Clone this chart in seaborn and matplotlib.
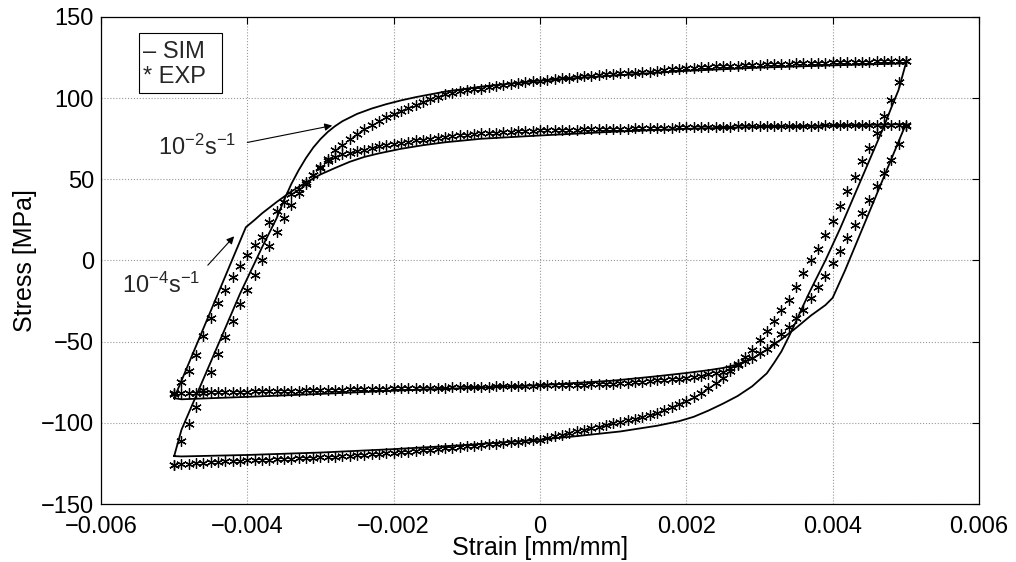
import matplotlib
matplotlib.use("Agg")
import matplotlib.pyplot as plt
import seaborn as sns
from matplotlib.patches import Rectangle

# ---------------- data ----------------
# experimental sampling strains (shared by all four experimental branches)
EXP_STRAIN = [
    -0.0050, -0.0049, -0.0048, -0.0047, -0.0046, -0.0045, -0.0044, -0.0043, -0.0042, -0.0041,
    -0.0040, -0.0039, -0.0038, -0.0037, -0.0036, -0.0035, -0.0034, -0.0033, -0.0032, -0.0031,
    -0.0030, -0.0029, -0.0028, -0.0027, -0.0026, -0.0025, -0.0024, -0.0023, -0.0022, -0.0021,
    -0.0020, -0.0019, -0.0018, -0.0017, -0.0016, -0.0015, -0.0014, -0.0013, -0.0012, -0.0011,
    -0.0010, -0.0009, -0.0008, -0.0007, -0.0006, -0.0005, -0.0004, -0.0003, -0.0002, -0.0001,
    0.0000,
    0.0001, 0.0002, 0.0003, 0.0004, 0.0005, 0.0006, 0.0007, 0.0008, 0.0009, 0.0010,
    0.0011, 0.0012, 0.0013, 0.0014, 0.0015, 0.0016, 0.0017, 0.0018, 0.0019, 0.0020,
    0.0021, 0.0022, 0.0023, 0.0024, 0.0025, 0.0026, 0.0027, 0.0028, 0.0029, 0.0030,
    0.0031, 0.0032, 0.0033, 0.0034, 0.0035, 0.0036, 0.0037, 0.0038, 0.0039, 0.0040,
    0.0041, 0.0042, 0.0043, 0.0044, 0.0045, 0.0046, 0.0047, 0.0048, 0.0049, 0.0050,
]

# EXP, strain rate 1e-2 1/s, loading branch (stress at EXP_STRAIN)
EXP_HIGH_LOADING = [
    -126, -111.5, -101, -90, -79.5, -68.5, -57.5, -47, -37, -27,
    -18, -9, 0, 9, 17.5, 26, 34, 41.5, 47, 52.4,
    57.5, 62.7, 67.8, 70.9, 75, 78, 81.1, 83.2, 86.2, 88.3,
    90.5, 92.3, 94.2, 96, 97.8, 99.6, 101, 102.4, 103.3, 104.2,
    104.9, 105.4, 105.9, 106.8, 107.6, 108.3, 109, 109.5, 110, 110.4,
    110.8,
    111.3, 111.8, 112.2, 112.7, 113.1, 113.5, 113.9, 114.3, 114.7, 115,
    115.3, 115.5, 115.7, 115.9, 116.3, 116.8, 117.3, 117.7, 118, 118.3,
    118.6, 118.9, 119.2, 119.5, 119.7, 119.9, 120.1, 120.3, 120.5, 120.7,
    120.9, 121, 121.1, 121.3, 121.4, 121.5, 121.7, 121.8, 121.9, 122,
    122.1, 122.2, 122.3, 122.4, 122.5, 122.6, 122.7, 122.8, 122.9, 123,
]
# EXP, strain rate 1e-2 1/s, unloading branch (stress at EXP_STRAIN)
EXP_HIGH_UNLOADING = [
    -125.8, -125.5, -125.2, -124.9, -124.6, -124.3, -124, -123.8, -123.6, -123.4,
    -123.2, -123, -122.8, -122.6, -122.4, -122.2, -122.1, -121.9, -121.7, -121.5,
    -121.2, -121, -120.8, -120.5, -120.3, -120, -119.7, -119.4, -119.1, -118.8,
    -118.5, -118.1, -117.7, -117.3, -116.9, -116.5, -116.1, -115.7, -115.3, -114.9,
    -114.5, -114.1, -113.7, -113.3, -112.9, -112.5, -112.1, -111.7, -111.3, -110.8,
    -110.3,
    -109.3, -108.3, -107.3, -106.3, -105.3, -104.3, -103.3, -102.3, -101.4, -100.4,
    -99.4, -98.4, -97.5, -96.5, -95.3, -93.9, -92.2, -90.2, -88.3, -86.6,
    -84.2, -81.9, -78.7, -75.6, -72.5, -68, -63.5, -59.2, -55, -49.2,
    -43.4, -37, -30.8, -24.5, -16.5, -7.5, 0, 7, 15.5, 24.5,
    33.5, 42.5, 51.5, 61, 69.5, 78.3, 88.7, 99, 109.7, 123,
]
# EXP, strain rate 1e-4 1/s, loading branch
EXP_LOW_LOADING = [
    -82, -74.6, -68, -58.5, -46.5, -35.5, -26, -18, -10, -3.5,
    3.3, 9.5, 14.5, 24, 30.5, 36, 41, 43.8, 48.5, 52.8,
    57, 61, 63.5, 65.8, 66.5, 67.2, 68.2, 69.5, 70.3, 71,
    71.6, 72.2, 73, 74, 74.5, 75, 75.5, 76.3, 76.8, 77.2,
    77.6, 78, 78.4, 78.6, 78.8, 79, 79.3, 79.5, 79.7, 79.9,
    80.1,
    80.2, 80.3, 80.4, 80.5, 80.6, 80.7, 80.8, 80.9, 81, 81.1,
    81.2, 81.3, 81.4, 81.5, 81.6, 81.7, 81.8, 81.9, 82, 82.1,
    82.2, 82.3, 82.3, 82.4, 82.5, 82.5, 82.6, 82.7, 82.7, 82.8,
    82.8, 82.9, 82.9, 83, 83, 83, 83.1, 83.1, 83.2, 83.2,
    83.2, 83.3, 83.3, 83.3, 83.4, 83.4, 83.4, 83.5, 83.5, 83.5,
]
# EXP, strain rate 1e-4 1/s, unloading branch
EXP_LOW_UNLOADING = [
    -81.8, -81.7, -81.6, -81.5, -81.4, -81.3, -81.2, -81.1, -81, -80.9,
    -80.8, -80.7, -80.6, -80.5, -80.4, -80.3, -80.2, -80.1, -80, -79.9,
    -79.8, -79.7, -79.6, -79.5, -79.4, -79.3, -79.2, -79.1, -79, -78.9,
    -78.8, -78.7, -78.65, -78.6, -78.55, -78.5, -78.4, -78.3, -78.2, -78.1,
    -78, -77.9, -77.8, -77.7, -77.6, -77.5, -77.4, -77.3, -77.2, -77.1,
    -77,
    -76.9, -76.8, -76.7, -76.6, -76.5, -76.4, -76.3, -76.2, -76.05, -75.9,
    -75.6, -75.3, -75, -74.6, -74.3, -73.9, -73.6, -73.2, -72.9, -72.5,
    -71.7, -70.9, -70.1, -69.3, -68.5, -66.4, -64.3, -62.2, -60, -57,
    -54.5, -51, -45.5, -41.2, -35.6, -30.5, -23.4, -16.6, -9.6, -1.8,
    5.6, 13.6, 21.8, 29.3, 37.5, 45.9, 53.8, 62, 71.5, 83,
]

# SIM, strain rate 1e-2 1/s : closed loop (loading then unloading)
SIM_HIGH_STRAIN = [
    -0.0050, -0.0049, -0.0045, -0.0041, -0.0038, -0.0036, -0.0035, -0.0034, -0.0033, -0.0032,
    -0.0031, -0.0030, -0.0029, -0.0028, -0.0027, -0.0025, -0.0023, -0.0021, -0.0019, -0.0017,
    -0.0013, -0.0008, 0.0000, 0.0010, 0.0020, 0.0030, 0.0040, 0.0050,
    0.0049, 0.0048, 0.0047, 0.0045, 0.0043, 0.0041, 0.0039, 0.0038, 0.0037, 0.0036,
    0.0035, 0.0034, 0.0033, 0.0032, 0.0031, 0.0029, 0.0027, 0.0025, 0.0023, 0.0021,
    0.0019, 0.0016, 0.0011, 0.0005, 0.0000, -0.0010, -0.0020, -0.0030, -0.0040, -0.0049,
    -0.0050,
]
SIM_HIGH_STRESS = [
    -120.5, -104.3, -62.5, -20.5, 8, 26, 37, 47, 55.5, 63,
    69.5, 74.8, 79.2, 82.8, 85.8, 90.3, 93.6, 96.3, 98.6, 100.6,
    104, 107.1, 110.8, 113.9, 116.8, 118.8, 120.2, 121.4,
    105, 94, 82.5, 61.5, 40.5, 19.5, 0, -9, -18, -27.5,
    -37.5, -47, -56, -63, -69.5, -77.5, -83.5, -88.2, -92.5, -96.3,
    -99, -101.8, -105.3, -108.2, -110.4, -113.6, -116.2, -118.3, -119.8, -120.7,
    -120.5,
]
# SIM, strain rate 1e-4 1/s : closed loop
SIM_LOW_STRAIN = [
    -0.0050, -0.00402, -0.0039, -0.0038, -0.0036, -0.0034, -0.0032, -0.0030, -0.0028, -0.0026,
    -0.0024, -0.0022, -0.0019, -0.0016, -0.0013, -0.0008, 0.0000, 0.0010, 0.0020, 0.0030,
    0.0040, 0.0050,
    0.00417, 0.0040, 0.0039, 0.0037, 0.0035, 0.0033, 0.0031, 0.0029, 0.0027, 0.0025,
    0.0023, 0.0020, 0.0016, 0.0010, 0.0000, -0.0010, -0.0020, -0.0030, -0.0040, -0.0049,
    -0.0050,
]
SIM_LOW_STRESS = [
    -84.8, 20.5, 25, 29, 36, 42.5, 48, 53, 57, 60.8,
    63.8, 66, 68.8, 71, 72.8, 75, 77, 79.3, 81.1, 82.3,
    83.1, 84,
    -6, -23, -27.5, -34, -41.5, -48.5, -55, -60.5, -64, -66.2,
    -67.6, -69.3, -71.3, -74, -76.8, -78.6, -80.2, -82.2, -84, -85.5,
    -84.8,
]

X_TICKS = [-0.006, -0.004, -0.002, 0.0, 0.002, 0.004, 0.006]
X_TICK_LABELS = ["\u22120.006", "\u22120.004", "\u22120.002", "0", "0.002", "0.004", "0.006"]
Y_TICKS = [-150, -100, -50, 0, 50, 100, 150]
Y_TICK_LABELS = ["\u2212150", "\u2212100", "\u221250", "0", "50", "100", "150"]

LEGEND_LINES = ["\u2013 SIM", "* EXP"]
RATE_LABELS = ["10$^{\u22122}$s$^{\u22121}$", "10$^{\u22124}$s$^{\u22121}$"]

# ---------------- style ----------------
sns.set_theme(style="white")
plt.rcParams["font.family"] = ["Liberation Sans", "DejaVu Sans"]
plt.rcParams["mathtext.fontset"] = "custom"
plt.rcParams["mathtext.rm"] = "Liberation Sans"
plt.rcParams["mathtext.it"] = "Liberation Sans:italic"
plt.rcParams["mathtext.bf"] = "Liberation Sans:bold"
plt.rcParams["mathtext.default"] = "rm"
plt.rcParams["axes.unicode_minus"] = True

fig = plt.figure(figsize=(10.16, 5.62), dpi=100)
ax = fig.add_axes([0.0994, 0.1032, 0.8642, 0.8666])

# simulations (solid lines)
for xs, ys in [(SIM_HIGH_STRAIN, SIM_HIGH_STRESS), (SIM_LOW_STRAIN, SIM_LOW_STRESS)]:
    sns.lineplot(x=xs, y=ys, sort=False, estimator=None, color="black",
                 linewidth=1.3, ax=ax, zorder=3)

# experiments (asterisk markers)
for ys in [EXP_HIGH_LOADING, EXP_HIGH_UNLOADING, EXP_LOW_LOADING, EXP_LOW_UNLOADING]:
    sns.lineplot(x=EXP_STRAIN, y=ys, sort=False, estimator=None, color="black",
                 linestyle="", marker=(6, 2, 0), markersize=7.5,
                 markeredgewidth=0.9, markeredgecolor="black", ax=ax, zorder=4)

ax.set_xlim(-0.006, 0.006)
ax.set_ylim(-150, 150)
ax.set_xticks(X_TICKS)
ax.set_xticklabels(X_TICK_LABELS)
ax.set_yticks(Y_TICKS)
ax.set_yticklabels(Y_TICK_LABELS)
ax.tick_params(direction="in", top=True, right=True, length=5, width=0.8,
               labelsize=17, colors="black")
ax.tick_params(axis="x", pad=8.5)
ax.tick_params(axis="y", pad=5)
ax.grid(True, linestyle=":", color="0.6", linewidth=0.8)
for sp in ax.spines.values():
    sp.set_visible(True)
    sp.set_color("black")
    sp.set_linewidth(0.9)

ax.set_xlabel("Strain [mm/mm]", fontsize=18, labelpad=-1, color="black")
ax.set_ylabel("Stress [MPa]", fontsize=18, labelpad=3, color="black")

# legend-like box
ax.add_patch(Rectangle((0.0433, 0.844), 0.0945, 0.123, transform=ax.transAxes,
                       facecolor="white", edgecolor="black", linewidth=0.8, zorder=6))
ax.text(0.0478, 0.928, LEGEND_LINES[0], transform=ax.transAxes, ha="left", va="center",
        fontsize=17, zorder=7)
ax.text(0.0478, 0.876, LEGEND_LINES[1], transform=ax.transAxes, ha="left", va="center",
        fontsize=17, zorder=7)

# rate annotations
ax.text(-0.00522, 65.3, RATE_LABELS[0], ha="left", va="baseline", fontsize=17, zorder=7)
ax.text(-0.00571, -20.1, RATE_LABELS[1], ha="left", va="baseline", fontsize=17, zorder=7)
arrow = dict(arrowstyle="-|>", color="black", lw=0.8, mutation_scale=11,
             shrinkA=0, shrinkB=0)
ax.annotate("", xy=(-0.00284, 83.1), xytext=(-0.0040, 72.7), arrowprops=arrow, zorder=7)
ax.annotate("", xy=(-0.00418, 14.9), xytext=(-0.00454, -2.9), arrowprops=arrow, zorder=7)

fig.savefig("out.png", dpi=100)
